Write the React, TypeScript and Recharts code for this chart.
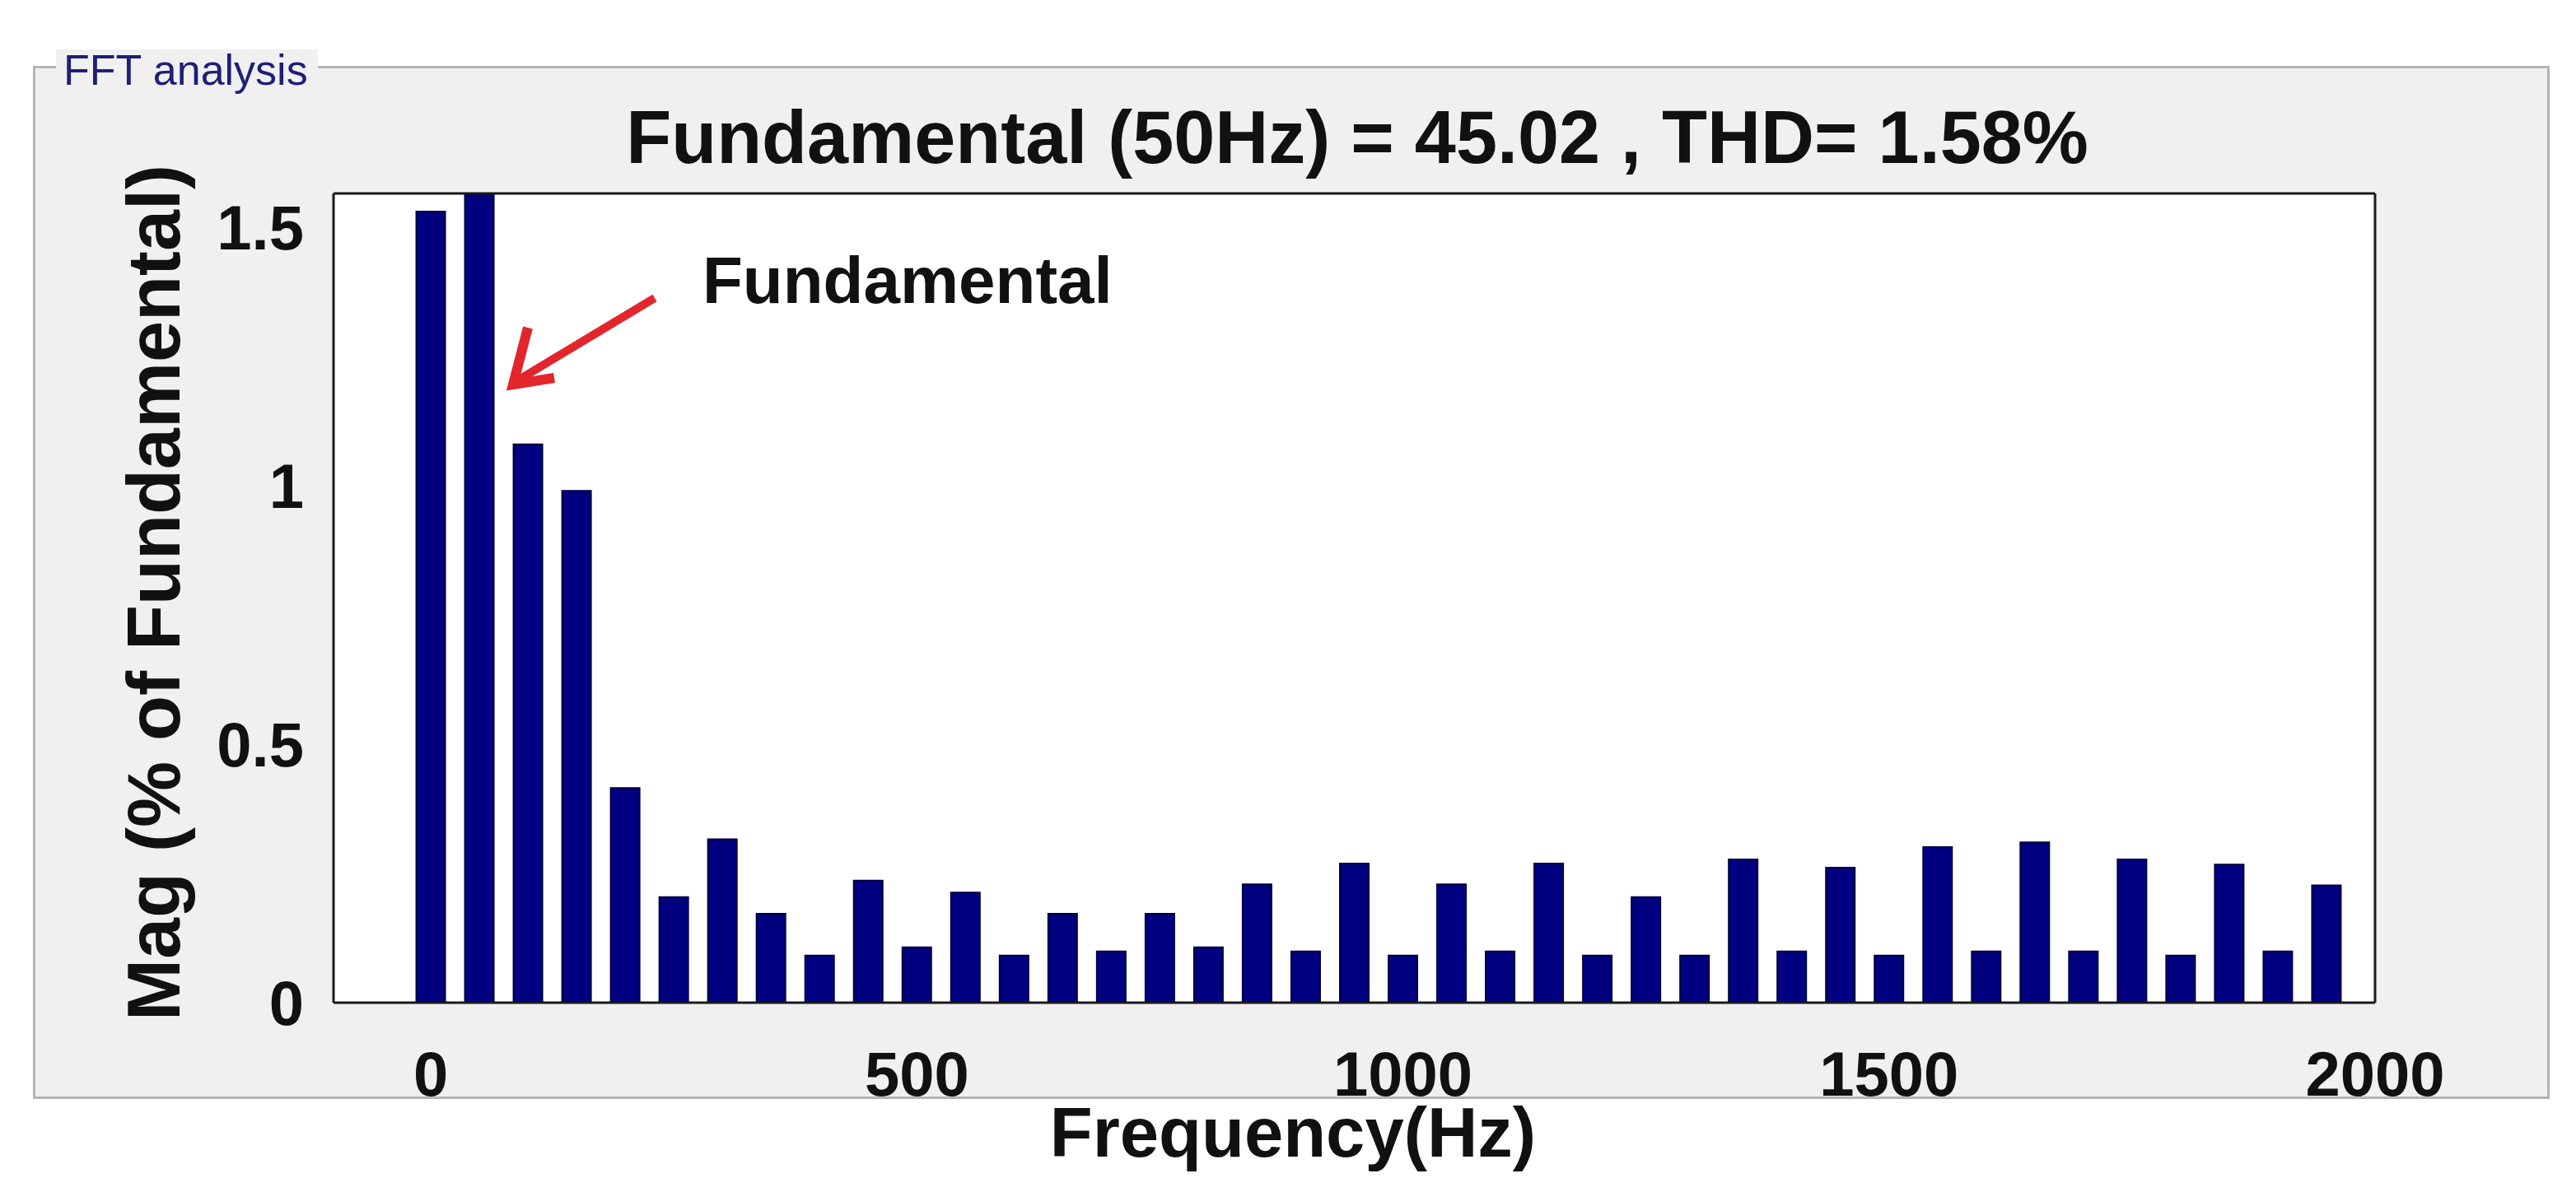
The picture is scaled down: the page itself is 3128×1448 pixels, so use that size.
import React from "react";
import { BarChart, Bar, XAxis, YAxis, CartesianGrid } from "recharts";

// harmonic frequencies (Hz) and magnitudes (% of fundamental)
const frequencies = [
  0, 50, 100, 150, 200, 250, 300, 350, 400, 450,
  500, 550, 600, 650, 700, 750, 800, 850, 900, 950,
  1000, 1050, 1100, 1150, 1200, 1250, 1300, 1350, 1400, 1450,
  1500, 1550, 1600, 1650, 1700, 1750, 1800, 1850, 1900, 1950,
];

const magnitudes = [
  1.53, 100, 1.08, 0.99, 0.415, 0.204, 0.316, 0.172, 0.091, 0.236,
  0.107, 0.213, 0.091, 0.172, 0.099, 0.172, 0.107, 0.229, 0.099, 0.269,
  0.091, 0.229, 0.099, 0.269, 0.091, 0.204, 0.091, 0.277, 0.099, 0.261,
  0.091, 0.301, 0.099, 0.31, 0.099, 0.277, 0.091, 0.267, 0.099, 0.227,
];

const xTicks = [0, 500, 1000, 1500, 2000];
const yTicks = [0, 0.5, 1, 1.5];

const xDomain: [number, number] = [-100, 2000];
const yDomain: [number, number] = [0, 1.565];

const FONT = "'Liberation Sans', Arial, Helvetica, sans-serif";
const TITLE = "Fundamental (50Hz) = 45.02 , THD= 1.58%";

const data = frequencies.map((f, i) => ({ freq: f, mag: magnitudes[i] }));

const tickText = { fontSize: 76, fontWeight: 700, fill: "#111", fontFamily: FONT };
const frame = { stroke: "#1a1a1a", strokeWidth: 3 };

export default function App() {
  return (
    <div
      style={{
        position: "absolute",
        left: 0,
        top: 0,
        width: 3128,
        height: 1448,
        background: "#ffffff",
        overflow: "hidden",
      }}
    >
      {/* FFT analysis panel */}
      <div
        style={{
          position: "absolute",
          left: 40,
          top: 80,
          width: 3050,
          height: 1249,
          background: "#f0f0f0",
          border: "3px solid #b4b4b4",
        }}
      />
      <div style={{ position: "absolute", left: 0, top: 0 }}>
        {/* axes are 1px thick, so margins are the plot box minus that */}
        <BarChart
          width={3128}
          height={1448}
          data={data}
          margin={{ top: 235, right: 244, bottom: 229, left: 404 }}
        >
          <CartesianGrid horizontal={false} vertical={false} fill="#ffffff" />
          <XAxis
            dataKey="freq"
            type="number"
            domain={xDomain}
            allowDataOverflow
            ticks={xTicks}
            height={1}
            tickSize={0}
            tickMargin={59}
            tickLine={false}
            axisLine={frame}
            tick={tickText}
          />
          <YAxis
            type="number"
            domain={yDomain}
            allowDataOverflow
            ticks={yTicks}
            width={1}
            tickSize={0}
            tickMargin={36}
            tickLine={false}
            axisLine={frame}
            tick={tickText}
          />
          {/* inward tick marks on all four sides, MATLAB style */}
          <XAxis
            xAxisId="tb"
            dataKey="freq"
            type="number"
            domain={xDomain}
            allowDataOverflow
            ticks={xTicks}
            height={1}
            mirror
            tickSize={22}
            tick={false}
            tickLine={frame}
            axisLine={false}
          />
          <XAxis
            xAxisId="tt"
            orientation="top"
            dataKey="freq"
            type="number"
            domain={xDomain}
            allowDataOverflow
            ticks={xTicks}
            height={1}
            mirror
            tickSize={22}
            tick={false}
            tickLine={frame}
            axisLine={frame}
          />
          <YAxis
            yAxisId="tl"
            type="number"
            domain={yDomain}
            allowDataOverflow
            ticks={yTicks}
            width={1}
            mirror
            tickSize={22}
            tick={false}
            tickLine={frame}
            axisLine={false}
          />
          <YAxis
            yAxisId="tr"
            orientation="right"
            type="number"
            domain={yDomain}
            allowDataOverflow
            ticks={yTicks}
            width={1}
            mirror
            tickSize={22}
            tick={false}
            tickLine={frame}
            axisLine={frame}
          />
          <Bar
            dataKey="mag"
            barSize={35}
            fill="#000080"
            stroke="#000040"
            strokeWidth={2}
            isAnimationActive={false}
          />
        </BarChart>
      </div>
      {/* titles and annotation */}
      <svg
        width={3128}
        height={1448}
        style={{ position: "absolute", left: 0, top: 0, pointerEvents: "none" }}
      >
        <rect x={68} y={60} width={318} height={56} fill="#f0f0f0" />
        <text x={77} y={103} fontSize={52} fill="#1f1f78" fontFamily={FONT}>
          FFT analysis
        </text>
        <text
          x={1648}
          y={198}
          fontSize={90}
          fontWeight={700}
          textAnchor="middle"
          fill="#111"
          fontFamily={FONT}
        >
          {TITLE}
        </text>
        <text
          transform="translate(218,720) rotate(-90)"
          fontSize={90}
          fontWeight={700}
          textAnchor="middle"
          fill="#111"
          fontFamily={FONT}
        >
          Mag (% of Fundamental)
        </text>
        <text
          x={1570}
          y={1405}
          fontSize={85}
          fontWeight={700}
          textAnchor="middle"
          fill="#111"
          fontFamily={FONT}
        >
          Frequency(Hz)
        </text>
        <text x={853} y={368} fontSize={80} fontWeight={700} fill="#111" fontFamily={FONT}>
          Fundamental
        </text>
        <line x1={795} y1={362} x2={632} y2={460} stroke="#e3262b" strokeWidth={10} />
        <polyline
          points="641,398 623,467 673,459"
          fill="none"
          stroke="#e3262b"
          strokeWidth={12}
          strokeLinejoin="miter"
        />
      </svg>
    </div>
  );
}
